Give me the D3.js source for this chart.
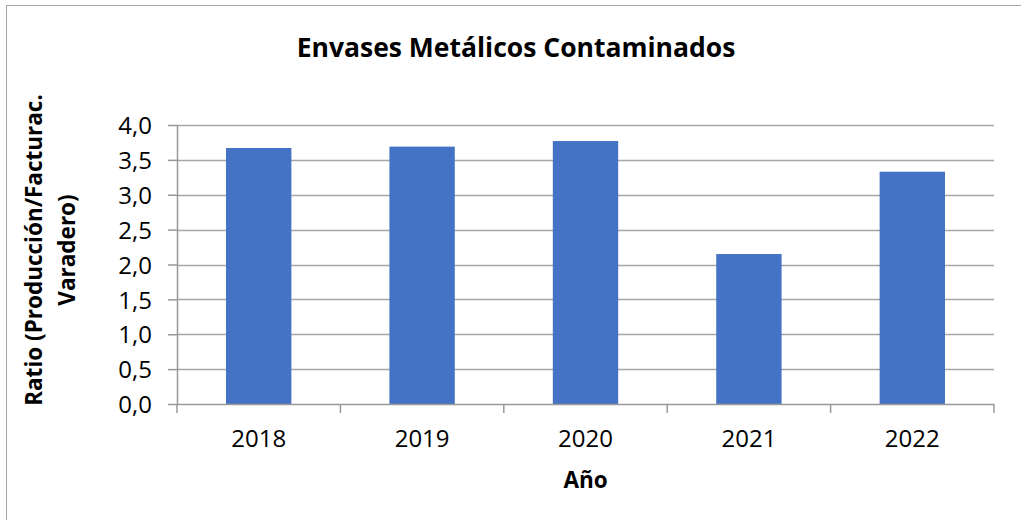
<!DOCTYPE html>
<html>
<head>
<meta charset="utf-8">
<script src="https://cdn.jsdelivr.net/npm/d3@7"></script>
<style>
	body { margin: 0; background: #fff; }
	text { font-family: 'Open Sans', sans-serif; fill: #000; }
</style>
</head>
<body>
<script>
// data
var years = ['2018', '2019', '2020', '2021', '2022'];
var ratios = [3.67, 3.69, 3.77, 2.15, 3.33];
var yTicks = [0, 0.5, 1, 1.5, 2, 2.5, 3, 3.5, 4];

var chartTitle = 'Envases Metálicos Contaminados';
var xTitle = 'Año';
var yTitleLines = ['Ratio (Producción/Facturac.', 'Varadero)'];

var W = 1021, H = 520;
var plot = { left: 177, right: 994, top: 125, bottom: 404 };

var svg = d3.select('body')
	.append('svg')
	.attr('width', W)
	.attr('height', H);

// outer chart frame (only left and top edges show in the picture)
svg.append('rect')
	.attr('x', 6.5)
	.attr('y', 5.5)
	.attr('width', W + 20)
	.attr('height', H + 20)
	.style('fill', '#fff')
	.style('stroke', '#a6a6a6');

var x = d3.scaleBand()
	.domain(years)
	.range([plot.left, plot.right])
	.paddingInner(0.6)
	.paddingOuter(0.3);

var y = d3.scaleLinear()
	.domain([0, 4])
	.range([plot.bottom, plot.top]);

// comma as decimal mark
var fmt = d3.formatLocale({ decimal: ',', thousands: '.', grouping: [3], currency: ['', '€'] }).format('.1f');

// gridlines
svg.append('g')
	.selectAll('line')
	.data(yTicks.slice(1))
	.enter().append('line')
	.attr('x1', plot.left)
	.attr('x2', plot.right)
	.attr('y1', function(d) { return Math.round(y(d)) + 0.5; })
	.attr('y2', function(d) { return Math.round(y(d)) + 0.5; })
	.style('stroke', '#a6a6a6')
	.style('stroke-width', 1.5);

// bars
svg.append('g')
	.selectAll('rect')
	.data(ratios)
	.enter().append('rect')
	.attr('x', function(d, i) { return x(years[i]); })
	.attr('y', function(d) { return y(d); })
	.attr('width', x.bandwidth())
	.attr('height', function(d) { return y(0) - y(d); })
	.style('fill', '#4472c4');

// y axis
var yAxis = d3.axisLeft(y)
	.tickValues(yTicks)
	.tickSize(9)
	.tickPadding(16)
	.tickFormat(fmt);

var gy = svg.append('g')
	.attr('transform', 'translate(' + plot.left + ',0)')
	.call(yAxis);
gy.selectAll('path, line').style('stroke', '#999').style('stroke-width', 1.5);
gy.select('.domain').attr('d', 'M0.5,' + plot.top + 'V' + plot.bottom);
gy.selectAll('text')
	.style('font-family', "'Open Sans', sans-serif")
	.style('font-size', '24px')
	.attr('dy', '0.36em');

// x axis: labels at band centres, tick marks on band edges
var xAxis = d3.axisBottom(x).tickSize(0);
var gx = svg.append('g')
	.attr('transform', 'translate(0,' + plot.bottom + ')')
	.call(xAxis);
gx.select('.domain').attr('d', 'M' + plot.left + ',0.5H' + plot.right).style('stroke', '#999').style('stroke-width', 1.5);
gx.selectAll('text')
	.attr('y', 43)
	.attr('dy', null)
	.style('font-family', "'Open Sans', sans-serif")
	.style('font-size', '24px');

var edges = d3.range(years.length + 1).map(function(i) { return plot.left + i * x.step(); });
gx.selectAll('.edge')
	.data(edges)
	.enter().append('line')
	.attr('class', 'edge')
	.attr('x1', function(d) { return d; })
	.attr('x2', function(d) { return d; })
	.attr('y1', 0)
	.attr('y2', 9)
	.style('stroke', '#999')
	.style('stroke-width', 1.5);

// titles
svg.append('text')
	.attr('x', 516)
	.attr('y', 57)
	.attr('text-anchor', 'middle')
	.style('font-weight', 'bold')
	.style('font-size', '26.5px')
	.text(chartTitle);

svg.append('text')
	.attr('x', (plot.left + plot.right) / 2)
	.attr('y', 488)
	.attr('text-anchor', 'middle')
	.style('font-weight', 'bold')
	.style('font-size', '22.5px')
	.text(xTitle);

svg.append('g')
	.selectAll('text')
	.data(yTitleLines)
	.enter().append('text')
	.attr('transform', function(d, i) { return 'translate(' + (42 + i * 33) + ',250) rotate(-90)'; })
	.attr('text-anchor', 'middle')
	.style('font-weight', 'bold')
	.style('font-size', '22.5px')
	.text(function(d) { return d; });
</script>
</body>
</html>
